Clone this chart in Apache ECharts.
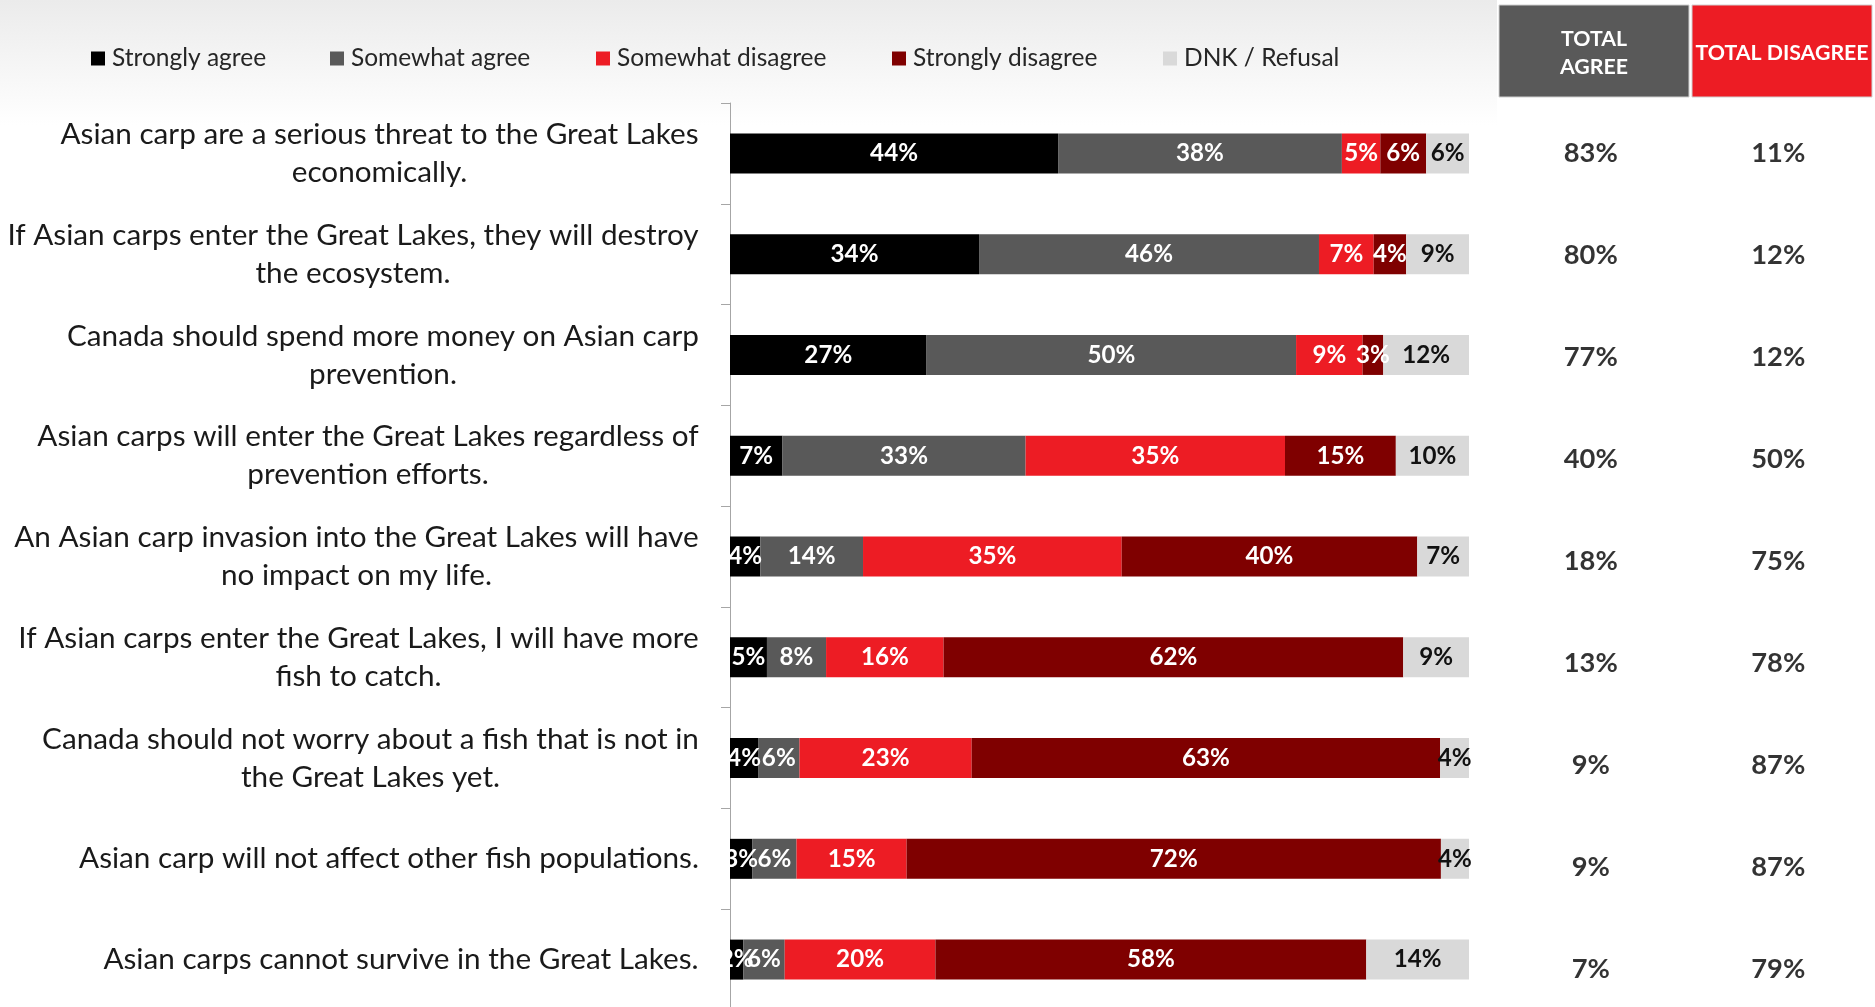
<!DOCTYPE html>
<html>
<head>
<meta charset="utf-8">
<script src="https://cdn.jsdelivr.net/npm/echarts@6/dist/echarts.min.js"></script>
<style>
html,body{margin:0;padding:0;background:#fff;overflow:hidden;}
#chart{width:1875px;height:1040px;}
</style>
</head>
<body>
<div id="chart"></div>
<script>
// ---------- DATA ----------
const categories = [
  "Asian carp are a serious threat to the Great Lakes\neconomically.",
  "If Asian carps enter the Great Lakes, they will destroy\nthe ecosystem.",
  "Canada should spend more money on Asian carp\nprevention.",
  "Asian carps will enter the Great Lakes regardless of\nprevention efforts.",
  "An Asian carp invasion into the Great Lakes will have\nno impact on my life.",
  "If Asian carps enter the Great Lakes, I will have more\nfish to catch.",
  "Canada should not worry about a fish that is not in\nthe Great Lakes yet.",
  "Asian carp will not affect other fish populations.",
  "Asian carps cannot survive in the Great Lakes."
];
const seriesNames = ["Strongly agree", "Somewhat agree", "Somewhat disagree", "Strongly disagree", "DNK / Refusal"];
const stronglyAgree    = [44.4, 33.7, 26.6,  7.1,  4.1,  5.0,  3.8,  3.0,  1.8];
const somewhatAgree    = [38.4, 46.0, 50.0, 32.9, 13.9,  8.0,  5.6,  6.0,  5.6];
const somewhatDisagree = [ 5.2,  7.4,  9.0, 35.1, 35.0, 15.9, 23.3, 14.9, 20.4];
const stronglyDisagree = [ 6.2,  4.4,  2.8, 15.0, 40.0, 62.2, 63.4, 72.3, 58.3];
const dnkRefusal       = [ 5.8,  8.5, 11.6,  9.9,  7.0,  8.9,  3.9,  3.8, 13.9];
const totalHeaders = ["TOTAL\nAGREE", "TOTAL DISAGREE"];
const totalAgree    = [83, 80, 77, 40, 18, 13,  9,  9,  7];
const totalDisagree = [11, 12, 12, 50, 75, 78, 87, 87, 79];

// ---------- STYLE / LAYOUT ----------
const FONT = 'Lato, "Open Sans", "Liberation Sans", sans-serif';
const colors = ["#000000", "#595959", "#ED1C24", "#7F0000", "#D9D9D9"];
const labelColors = ["#fff", "#fff", "#fff", "#fff", "#111"];
const G1 = {left: 730, top: 103, width: 739, height: 907};
const G2 = {left: 1497, top: 102, width: 375, height: 918};
const headerBoxes = [{x: 1499, w: 190, fill: '#595959'}, {x: 1692, w: 180, fill: '#ED1C24'}];
const legendLefts = [86, 325, 591, 887, 1158];

// font-size fitting to the reference text widths
const cv = document.createElement('canvas').getContext('2d');
function measure(text, size, weight) {
  cv.font = (weight || 'normal') + ' ' + size + 'px ' + FONT;
  return cv.measureText(text).width;
}
function fit(text, target, weight) {
  return Math.round(100 * target / measure(text, 100, weight) * 10) / 10;
}
const CAT_FS = fit("If Asian carps enter the Great Lakes, they will destroy", 691, 'normal');
const BAR_FS = fit("44%", 48, 'bold');
const TOT_FS = fit("83%", 54, 'bold');
const LEG_FS = fit("Strongly agree", 154, 'normal');
const HDR_FS = fit("TOTAL DISAGREE", 173, 'bold');

const rich = {};
categories.forEach((c, i) => {
  const w = Math.max(...c.split('\n').map(s => measure(s, CAT_FS, 'normal')));
  rich['l' + i] = {width: Math.ceil(w) + 2, align: 'center', fontSize: CAT_FS,
    fontFamily: FONT, color: '#1a1a1a', lineHeight: 38};
});

const values = [stronglyAgree, somewhatAgree, somewhatDisagree, stronglyDisagree, dnkRefusal];
const barSeries = values.map((arr, k) => ({
  name: seriesNames[k],
  type: 'bar',
  stack: 'total',
  xAxisIndex: 0, yAxisIndex: 0,
  barWidth: 40,
  itemStyle: {color: colors[k]},
  label: {
    show: true, position: 'inside',
    formatter: p => Math.round(p.value) + '%',
    color: labelColors[k], fontWeight: 'bold', fontSize: BAR_FS, fontFamily: FONT
  },
  data: arr
}));

const totalSeries = [totalAgree, totalDisagree].map((arr, k) => ({
  type: 'scatter',
  xAxisIndex: 1, yAxisIndex: 1,
  symbolSize: 2,
  itemStyle: {color: 'rgba(0,0,0,0)'},
  label: {show: true, position: 'inside', formatter: p => p.value[2] + '%',
    color: '#000', fontWeight: 'bold', fontSize: TOT_FS, fontFamily: FONT},
  data: arr.map((v, i) => [k, i, v])
}));

const legends = seriesNames.map((n, k) => ({
  data: [n], left: legendLefts[k], top: 41, icon: 'rect',
  itemWidth: 14, itemHeight: 14, itemGap: 0, selectedMode: false,
  textStyle: {fontSize: LEG_FS, color: '#262626', fontFamily: FONT, padding: [0, 0, 0, 2]}
}));

const graphics = [
  {type: 'rect', z: -100, silent: true, shape: {x: 0, y: 0, width: G2.left, height: 125},
   style: {fill: {type: 'linear', x: 0, y: 0, x2: 0, y2: 1,
     colorStops: [{offset: 0, color: '#ebebeb'}, {offset: 1, color: '#ffffff'}]}}}
];
totalHeaders.forEach((t, k) => {
  const b = headerBoxes[k];
  graphics.push({type: 'rect', z: 10, shape: {x: b.x, y: 5, width: b.w, height: 92},
    style: {fill: b.fill, stroke: '#d0d0d0', lineWidth: 1}});
  graphics.push({type: 'text', z: 11, style: {text: t, x: b.x + b.w / 2, y: 53,
    align: 'center', verticalAlign: 'middle', fill: '#fff', font: 'bold ' + HDR_FS + 'px ' + FONT, lineHeight: 28}});
});

const chart = echarts.init(document.getElementById('chart'));
chart.setOption({
  animation: false,
  backgroundColor: '#fff',
  legend: legends,
  graphic: graphics,
  grid: [
    {left: G1.left, top: G1.top, width: G1.width, height: G1.height, containLabel: false},
    {left: G2.left, top: G2.top, width: G2.width, height: G2.height, containLabel: false}
  ],
  xAxis: [
    {type: 'value', gridIndex: 0, min: 0, max: 100, show: false},
    {type: 'category', gridIndex: 1, data: ['agree', 'disagree'], show: false}
  ],
  yAxis: [
    {type: 'category', gridIndex: 0, inverse: true, data: categories,
     axisLine: {show: true, lineStyle: {color: '#a6a6a6', width: 1}},
     axisTick: {show: true, length: 9, lineStyle: {color: '#a6a6a6'}},
     axisLabel: {interval: 0, margin: 30, align: 'right',
       formatter: (v, i) => v.split('\n').map(s => '{l' + i + '|' + s + '}').join('\n'),
       rich: rich},
     splitLine: {show: false}},
    {type: 'category', gridIndex: 1, inverse: true, data: categories.map((c, i) => 'r' + i), show: false}
  ],
  series: barSeries.concat(totalSeries)
});
</script>
</body>
</html>
